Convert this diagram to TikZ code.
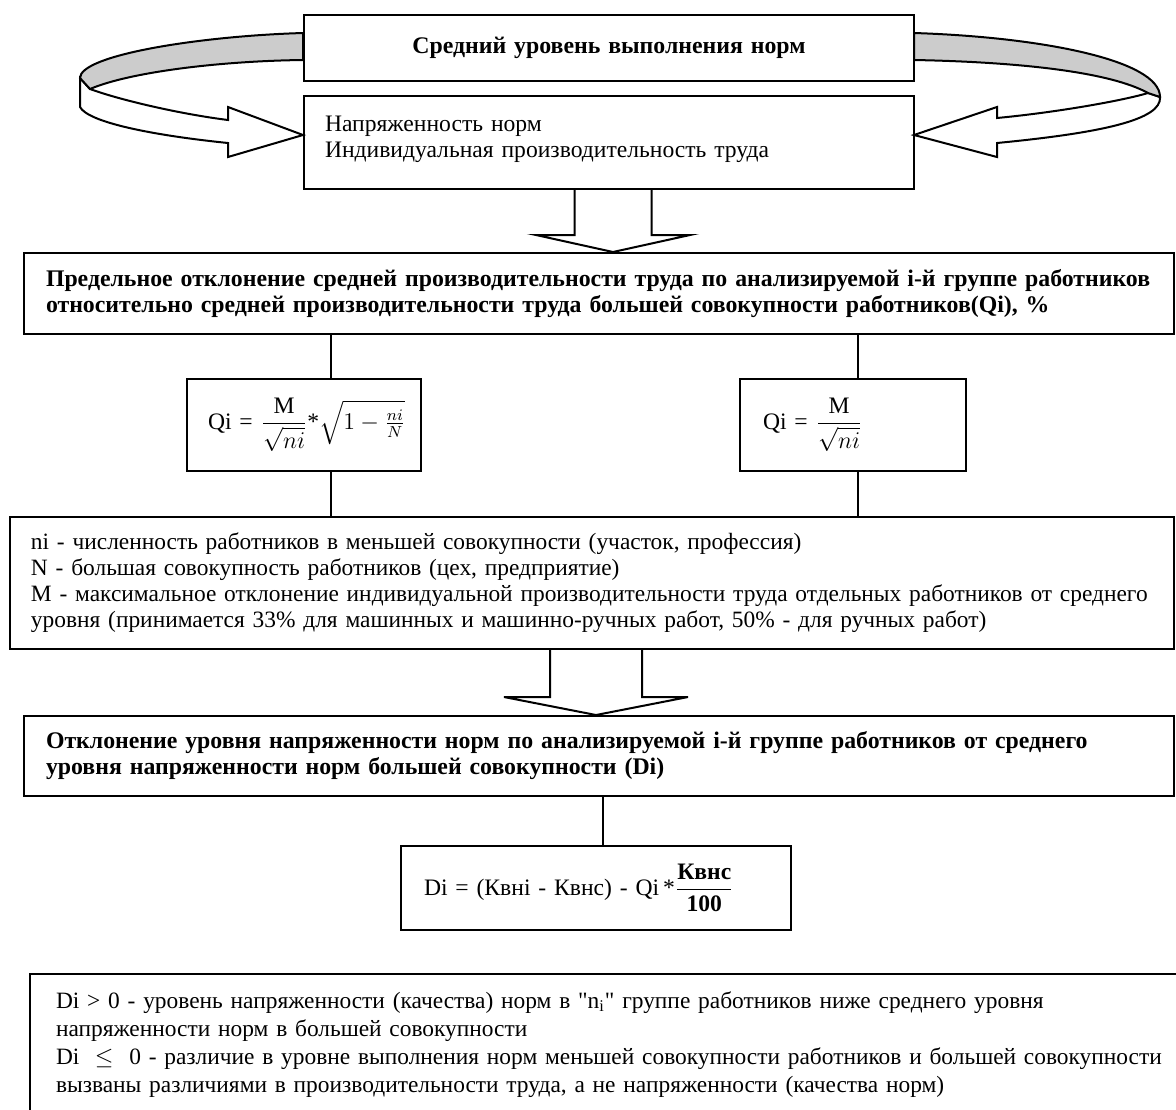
\documentclass[tikz,border=0pt]{standalone}
\usepackage{fontspec}
\setmainfont{Liberation Serif}
\newfontfamily\plainfont{Liberation Serif}
\usepackage{amsmath}
\usetikzlibrary{positioning, calc}
\definecolor{ribbon}{gray}{0.8}
\newcommand\fatarrow{}
\def\fatarrow(#1)(#2)[#3][#4][#5]{%
  % Synopsis
  % \fatarrow(shaft top)(tip)[shaft half width][head half width][head length]
  \draw[line width=1pt, fill=white] ($(#1)+(-#3,0)$) -- ($(#2)+(-#3,-#5)$) -- ($(#2)+(-#4,-#5)$)
    -- (#2) -- ($(#2)+(#4,-#5)$) -- ($(#2)+(#3,-#5)$) -- ($(#1)+(#3,0)$);
}

\begin{document}
\begin{tikzpicture}[x=0.5pt, y=-0.5pt,
    every node/.style={font=\fontsize{11.8}{13}\selectfont},
    box/.style={draw, line width=1pt, anchor=north west, inner xsep=10.5pt, inner ysep=0pt, align=left},
    boldbox/.style={box, font=\fontsize{11.9}{13}\selectfont\bfseries},
    link/.style={line width=1pt}]
  \useasboundingbox (0,0) rectangle (1176,1109);

  % ribbons round the two top boxes
  \filldraw[line width=1pt, fill=white] (80,78) -- (80,107) .. controls (88,122) and (150,135) .. (228,143)
    -- (228,157) -- (303,135) -- (228,107) -- (228,120) .. controls (180,114) and (120,100) .. (90,89) -- cycle;
  \filldraw[line width=1pt, fill=ribbon] (303,33) .. controls (200,36) and (80,55) .. (80,78)
    -- (90,89) .. controls (130,72) and (220,61) .. (303,60) -- cycle;
  \filldraw[line width=1pt, fill=white] (1160,97) .. controls (1162,120) and (1100,133) .. (997,143)
    -- (997,157) -- (914,135) -- (997,107) -- (997,118) .. controls (1060,112) and (1125,100) .. (1148,93) -- cycle;
  \filldraw[line width=1pt, fill=ribbon] (914,33) .. controls (1040,37) and (1160,60) .. (1160,97)
    -- (1148,93) .. controls (1110,72) and (1020,62) .. (914,60) -- cycle;

  \node[boldbox, minimum width=305pt, minimum height=33pt, text width=284pt, align=center] (mean) at (303,14)
    {Средний уровень выполнения норм};
  \node[box, minimum width=305pt, minimum height=46.5pt, text width=284pt] (tension) at (303,95)
    {Напряженность норм\\Индивидуальная производительность труда\rule[-6pt]{0pt}{0pt}};
  \node[boldbox, inner xsep=11pt, minimum width=575pt, minimum height=40.5pt, text width=553pt] (limit) at (23,252)
    {Предельное отклонение средней производительности труда по анализируемой i-й группе работников\\
     относительно средней производительности труда большей совокупности работников(Qi), \%};
  \node[box, minimum width=117pt, minimum height=46pt, text width=96pt] (qfull) at (186,378)
    {\mbox{Qi = $\dfrac{\mathrm{M}}{\sqrt{ni}}$*$\sqrt{1-\frac{ni}{N}}$}\rule[-5pt]{0pt}{0pt}};
  \node[box, inner xsep=11.5pt, minimum width=113pt, minimum height=46pt, text width=90pt] (qshort) at (739,378)
    {\mbox{Qi = $\dfrac{\mathrm{M}}{\sqrt{ni}}$}\rule[-5pt]{0pt}{0pt}};
  \node[box, minimum width=582pt, minimum height=66pt, text width=561pt,
        font=\fontsize{11.7}{13}\selectfont] (notation) at (9,516)
    {ni - численность работников в меньшей совокупности (участок, профессия)\\
     N - большая совокупность работников (цех, предприятие)\\
     M - максимальное отклонение индивидуальной производительности труда отдельных работников от среднего\\
     уровня (принимается 33\% для машинных и машинно-ручных работ, 50\% - для ручных работ)};
  \node[boldbox, inner xsep=11pt, minimum width=575pt, minimum height=40pt, text width=553pt] (dev) at (23,715)
    {Отклонение уровня напряженности норм по анализируемой i-й группе работников от среднего\\
     уровня напряженности норм большей совокупности (Di)};
  \node[box, inner xsep=11.5pt, minimum width=195pt, minimum height=42pt, text width=172pt] (dformula) at (400,845)
    {\mbox{Di = (Квнi - Квнс) - Qi\,*$\dfrac{\mbox{\bfseries Квнс}}{\mathbf{100}}$}};
  \node[box, inner xsep=13pt, minimum width=590pt, minimum height=70.5pt, text width=564pt,
        font=\fontsize{11.7}{14}\selectfont] (verdict) at (29,973)
    {Di > 0 - уровень напряженности (качества) норм в {\plainfont"}n\textsubscript{i}{\plainfont"} группе работников ниже среднего уровня\\
     напряженности норм в большей совокупности\\
     Di \ $\leq$ \ 0 - различие в уровне выполнения норм меньшей совокупности работников и большей совокупности\\
     вызваны различиями в производительности труда, а не напряженности (качества норм)};

  % connectors
  \coordinate (t1) at ([xshift=7pt]limit.north);
  \coordinate (s1) at (t1 |- tension.south);
  \fatarrow(s1)(t1)[38.5][77][17]
  \coordinate (t2) at ([xshift=-1.5pt]dev.north);
  \coordinate (s2) at (t2 |- notation.south);
  \fatarrow(s2)(t2)[46][92][18]

  \coordinate (ql) at ([xshift=13.5pt]qfull.north);
  \coordinate (qlb) at ([xshift=13.5pt]qfull.south);
  \coordinate (qr) at ([xshift=2.5pt]qshort.north);
  \coordinate (qrb) at ([xshift=2.5pt]qshort.south);
  \coordinate (dl) at ([xshift=3.5pt]dformula.north);
  \draw[link] (ql) -- (ql |- limit.south);
  \draw[link] (qr) -- (qr |- limit.south);
  \draw[link] (qlb) -- (qlb |- notation.north);
  \draw[link] (qrb) -- (qrb |- notation.north);
  \draw[link] (dl) -- (dl |- dev.south);
\end{tikzpicture}
\end{document}
